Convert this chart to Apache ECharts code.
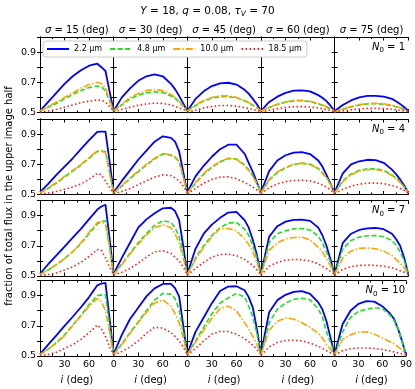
<!DOCTYPE html>
<html>
<head>
<meta charset="utf-8">
<script src="https://cdn.jsdelivr.net/npm/echarts@6/dist/echarts.min.js"></script>
<style>
  html, body { margin: 0; padding: 0; background: #fff; }
  #chart { width: 415px; height: 389px; }
</style>
</head>
<body>
<div id="chart"></div>
<script>
// inclination grid (deg), shared by every panel
const incl = [0, 10, 20, 30, 40, 50, 60, 70, 75, 80, 85, 90]
const sigmas = [15, 30, 45, 60, 75]
const n0s = [1, 4, 7, 10]
const waves = ['2.2 μm', '4.8 μm', '10.0 μm', '18.5 μm']

// flux fraction, [row = N0][col = sigma][incl]
const flux22 = [
  [
    [0.51, 0.57, 0.63, 0.69, 0.74, 0.78, 0.81, 0.823, 0.80, 0.775, 0.64, 0.51],
    [0.51, 0.60, 0.66, 0.71, 0.74, 0.752, 0.74, 0.69, 0.655, 0.61, 0.56, 0.51],
    [0.51, 0.59, 0.64, 0.675, 0.693, 0.697, 0.685, 0.65, 0.625, 0.59, 0.555, 0.51],
    [0.51, 0.57, 0.605, 0.63, 0.645, 0.647, 0.64, 0.615, 0.598, 0.575, 0.545, 0.51],
    [0.51, 0.55, 0.58, 0.60, 0.61, 0.61, 0.605, 0.59, 0.575, 0.557, 0.535, 0.51]
  ],
  [
    [0.515, 0.57, 0.63, 0.685, 0.74, 0.80, 0.86, 0.915, 0.916, 0.917, 0.72, 0.51],
    [0.515, 0.59, 0.66, 0.73, 0.79, 0.85, 0.885, 0.875, 0.85, 0.785, 0.65, 0.51],
    [0.515, 0.62, 0.69, 0.75, 0.80, 0.83, 0.83, 0.77, 0.71, 0.65, 0.58, 0.51],
    [0.515, 0.655, 0.725, 0.76, 0.777, 0.781, 0.768, 0.725, 0.685, 0.63, 0.57, 0.51],
    [0.515, 0.64, 0.70, 0.72, 0.73, 0.728, 0.71, 0.665, 0.635, 0.60, 0.56, 0.51]
  ],
  [
    [0.515, 0.578, 0.637, 0.695, 0.754, 0.812, 0.877, 0.94, 0.96, 0.972, 0.75, 0.51],
    [0.515, 0.62, 0.72, 0.82, 0.875, 0.915, 0.948, 0.952, 0.93, 0.87, 0.70, 0.51],
    [0.515, 0.68, 0.78, 0.84, 0.885, 0.92, 0.925, 0.87, 0.82, 0.74, 0.64, 0.51],
    [0.515, 0.76, 0.83, 0.86, 0.872, 0.873, 0.865, 0.82, 0.77, 0.70, 0.61, 0.51],
    [0.515, 0.72, 0.78, 0.805, 0.816, 0.818, 0.81, 0.78, 0.745, 0.70, 0.62, 0.51]
  ],
  [
    [0.513, 0.575, 0.637, 0.70, 0.76, 0.823, 0.89, 0.968, 0.98, 0.984, 0.75, 0.51],
    [0.515, 0.64, 0.745, 0.82, 0.895, 0.948, 0.977, 0.978, 0.95, 0.895, 0.70, 0.51],
    [0.515, 0.66, 0.755, 0.85, 0.93, 0.96, 0.962, 0.935, 0.89, 0.82, 0.68, 0.51],
    [0.515, 0.79, 0.87, 0.905, 0.925, 0.93, 0.912, 0.855, 0.81, 0.73, 0.62, 0.51],
    [0.515, 0.71, 0.80, 0.845, 0.864, 0.86, 0.83, 0.78, 0.745, 0.68, 0.60, 0.51]
  ]
]
const flux48 = [
  [
    [0.51, 0.535, 0.56, 0.59, 0.62, 0.645, 0.665, 0.675, 0.67, 0.645, 0.575, 0.51],
    [0.51, 0.55, 0.59, 0.615, 0.63, 0.637, 0.632, 0.61, 0.595, 0.57, 0.54, 0.51],
    [0.51, 0.545, 0.575, 0.595, 0.605, 0.605, 0.597, 0.577, 0.563, 0.547, 0.53, 0.51],
    [0.51, 0.533, 0.553, 0.568, 0.577, 0.578, 0.572, 0.557, 0.548, 0.537, 0.524, 0.51],
    [0.505, 0.522, 0.537, 0.549, 0.557, 0.558, 0.555, 0.545, 0.538, 0.53, 0.52, 0.508]
  ],
  [
    [0.51, 0.54, 0.575, 0.615, 0.655, 0.695, 0.74, 0.785, 0.787, 0.785, 0.65, 0.51],
    [0.51, 0.555, 0.605, 0.65, 0.695, 0.735, 0.768, 0.76, 0.745, 0.715, 0.62, 0.51],
    [0.51, 0.575, 0.635, 0.68, 0.715, 0.738, 0.735, 0.695, 0.665, 0.625, 0.575, 0.51],
    [0.51, 0.595, 0.645, 0.677, 0.698, 0.706, 0.70, 0.672, 0.645, 0.615, 0.57, 0.51],
    [0.51, 0.59, 0.635, 0.66, 0.67, 0.67, 0.66, 0.63, 0.61, 0.585, 0.55, 0.51]
  ],
  [
    [0.51, 0.54, 0.575, 0.615, 0.66, 0.715, 0.78, 0.845, 0.86, 0.865, 0.70, 0.51],
    [0.51, 0.58, 0.65, 0.72, 0.78, 0.835, 0.866, 0.855, 0.82, 0.76, 0.65, 0.51],
    [0.51, 0.62, 0.70, 0.77, 0.82, 0.85, 0.855, 0.81, 0.77, 0.70, 0.62, 0.51],
    [0.51, 0.72, 0.78, 0.80, 0.812, 0.814, 0.805, 0.765, 0.72, 0.66, 0.59, 0.51],
    [0.51, 0.68, 0.735, 0.758, 0.767, 0.768, 0.76, 0.735, 0.705, 0.66, 0.60, 0.51]
  ],
  [
    [0.51, 0.545, 0.59, 0.64, 0.705, 0.77, 0.84, 0.90, 0.905, 0.905, 0.70, 0.51],
    [0.51, 0.58, 0.655, 0.725, 0.80, 0.87, 0.915, 0.91, 0.88, 0.81, 0.66, 0.51],
    [0.51, 0.60, 0.69, 0.78, 0.85, 0.885, 0.915, 0.89, 0.83, 0.76, 0.65, 0.51],
    [0.51, 0.72, 0.81, 0.85, 0.875, 0.882, 0.872, 0.81, 0.76, 0.66, 0.59, 0.51],
    [0.51, 0.66, 0.755, 0.795, 0.81, 0.82, 0.815, 0.77, 0.735, 0.68, 0.60, 0.51]
  ]
]
const flux100 = [
  [
    [0.51, 0.54, 0.57, 0.60, 0.63, 0.66, 0.685, 0.70, 0.69, 0.665, 0.585, 0.51],
    [0.51, 0.555, 0.60, 0.625, 0.645, 0.652, 0.645, 0.62, 0.60, 0.575, 0.545, 0.51],
    [0.51, 0.55, 0.58, 0.60, 0.61, 0.61, 0.60, 0.58, 0.566, 0.55, 0.532, 0.51],
    [0.51, 0.535, 0.555, 0.57, 0.58, 0.58, 0.575, 0.56, 0.55, 0.54, 0.526, 0.51],
    [0.505, 0.525, 0.54, 0.552, 0.56, 0.561, 0.558, 0.548, 0.54, 0.532, 0.522, 0.508]
  ],
  [
    [0.51, 0.545, 0.58, 0.62, 0.66, 0.70, 0.745, 0.79, 0.79, 0.775, 0.64, 0.51],
    [0.51, 0.56, 0.61, 0.655, 0.70, 0.74, 0.772, 0.765, 0.75, 0.72, 0.62, 0.51],
    [0.51, 0.58, 0.64, 0.685, 0.72, 0.74, 0.735, 0.69, 0.66, 0.62, 0.57, 0.51],
    [0.51, 0.60, 0.65, 0.68, 0.70, 0.708, 0.70, 0.67, 0.64, 0.61, 0.565, 0.51],
    [0.51, 0.585, 0.63, 0.655, 0.665, 0.665, 0.655, 0.625, 0.605, 0.58, 0.55, 0.51]
  ],
  [
    [0.51, 0.54, 0.575, 0.615, 0.66, 0.72, 0.79, 0.855, 0.86, 0.84, 0.68, 0.51],
    [0.51, 0.575, 0.645, 0.71, 0.77, 0.82, 0.84, 0.82, 0.78, 0.72, 0.62, 0.51],
    [0.51, 0.61, 0.69, 0.76, 0.815, 0.815, 0.80, 0.745, 0.71, 0.66, 0.59, 0.51],
    [0.51, 0.67, 0.72, 0.745, 0.755, 0.757, 0.74, 0.69, 0.66, 0.615, 0.565, 0.51],
    [0.51, 0.62, 0.665, 0.683, 0.686, 0.68, 0.665, 0.635, 0.61, 0.585, 0.555, 0.51]
  ],
  [
    [0.51, 0.545, 0.585, 0.635, 0.70, 0.765, 0.83, 0.88, 0.86, 0.80, 0.66, 0.51],
    [0.51, 0.575, 0.65, 0.72, 0.79, 0.85, 0.872, 0.83, 0.78, 0.72, 0.62, 0.51],
    [0.51, 0.59, 0.67, 0.75, 0.815, 0.83, 0.80, 0.72, 0.68, 0.63, 0.58, 0.51],
    [0.51, 0.67, 0.73, 0.752, 0.745, 0.72, 0.69, 0.65, 0.62, 0.575, 0.545, 0.51],
    [0.51, 0.61, 0.64, 0.658, 0.66, 0.645, 0.62, 0.595, 0.58, 0.56, 0.54, 0.51]
  ]
]
const flux185 = [
  [
    [0.503, 0.51, 0.52, 0.535, 0.55, 0.565, 0.575, 0.583, 0.58, 0.57, 0.54, 0.51],
    [0.503, 0.52, 0.535, 0.548, 0.557, 0.562, 0.56, 0.55, 0.542, 0.53, 0.52, 0.507],
    [0.503, 0.515, 0.53, 0.54, 0.546, 0.547, 0.542, 0.532, 0.526, 0.52, 0.513, 0.505],
    [0.503, 0.515, 0.525, 0.533, 0.538, 0.539, 0.536, 0.53, 0.525, 0.52, 0.513, 0.505],
    [0.503, 0.51, 0.518, 0.523, 0.527, 0.528, 0.526, 0.522, 0.519, 0.515, 0.51, 0.505]
  ],
  [
    [0.503, 0.51, 0.52, 0.535, 0.55, 0.57, 0.60, 0.64, 0.63, 0.59, 0.545, 0.51],
    [0.505, 0.52, 0.54, 0.565, 0.59, 0.615, 0.63, 0.625, 0.61, 0.59, 0.555, 0.51],
    [0.505, 0.54, 0.575, 0.60, 0.615, 0.617, 0.605, 0.58, 0.565, 0.55, 0.53, 0.51],
    [0.505, 0.545, 0.57, 0.585, 0.593, 0.594, 0.59, 0.575, 0.563, 0.55, 0.53, 0.51],
    [0.505, 0.535, 0.555, 0.568, 0.575, 0.576, 0.572, 0.56, 0.552, 0.54, 0.527, 0.51]
  ],
  [
    [0.503, 0.51, 0.52, 0.54, 0.56, 0.59, 0.63, 0.675, 0.67, 0.62, 0.56, 0.51],
    [0.505, 0.525, 0.55, 0.585, 0.625, 0.66, 0.668, 0.65, 0.625, 0.60, 0.56, 0.51],
    [0.505, 0.55, 0.59, 0.625, 0.642, 0.645, 0.635, 0.61, 0.59, 0.57, 0.54, 0.51],
    [0.505, 0.565, 0.59, 0.605, 0.61, 0.608, 0.60, 0.58, 0.565, 0.55, 0.53, 0.51],
    [0.505, 0.545, 0.562, 0.57, 0.572, 0.57, 0.565, 0.555, 0.545, 0.535, 0.525, 0.51]
  ],
  [
    [0.503, 0.51, 0.525, 0.55, 0.575, 0.61, 0.655, 0.705, 0.68, 0.63, 0.56, 0.51],
    [0.505, 0.53, 0.56, 0.60, 0.65, 0.69, 0.685, 0.655, 0.63, 0.60, 0.56, 0.51],
    [0.505, 0.55, 0.60, 0.645, 0.663, 0.662, 0.645, 0.615, 0.595, 0.57, 0.545, 0.51],
    [0.505, 0.56, 0.59, 0.603, 0.605, 0.60, 0.585, 0.565, 0.55, 0.535, 0.522, 0.51],
    [0.505, 0.535, 0.548, 0.553, 0.553, 0.55, 0.543, 0.533, 0.527, 0.52, 0.514, 0.508]
  ]
]
const fluxes = [flux22, flux48, flux100, flux185]

const font = 'DejaVu Sans'
const lineStyles = [
  { color: '#0000ff', width: 1.8, type: 'solid' },
  { color: '#22dd22', width: 1.6, type: [5, 2.5] },
  { color: '#ffa500', width: 1.6, type: [7, 2, 1.5, 2] },
  { color: '#ff1a1a', width: 1.6, type: [1.5, 2.5] }
]

// panel layout
const left0 = 40
const colW = 73.66
const rowTop = [37, 119, 200.5, 280.5]
const rowH = 75.5

const grids = []
const xAxes = []
const yAxes = []
const series = []
const graphics = []

const axisLine = { show: true, lineStyle: { color: '#000', width: 1 } }

n0s.forEach((n0, r) => {
  sigmas.forEach((sig, c) => {
    const g = grids.length
    grids.push({ left: left0 + c * colW, top: rowTop[r], width: colW, height: rowH })
    const xBase = {
      type: 'value', gridIndex: g, min: 0, max: 90, interval: 30,
      axisLine: axisLine,
      axisTick: { show: true, inside: true, length: 3.5, lineStyle: { color: '#000' } },
      minorTick: { show: true, splitNumber: 2, length: 2, lineStyle: { color: '#000' } },
      splitLine: { show: false }
    }
    xAxes.push(Object.assign({}, xBase, {
      position: 'bottom',
      axisLabel: {
        show: r === 3, margin: 4, fontSize: 9.5, fontFamily: font, color: '#000',
        formatter: v => (v === 90 && c !== 4) ? '' : String(v)
      }
    }))
    xAxes.push(Object.assign({}, xBase, { position: 'top', axisLabel: { show: false } }))
    const yBase = {
      type: 'value', gridIndex: g, min: 0.5, max: 1.0, interval: 0.1,
      axisLine: axisLine,
      axisTick: { show: true, inside: true, length: 3, lineStyle: { color: '#000' } },
      splitLine: { show: false }
    }
    yAxes.push(Object.assign({}, yBase, {
      position: 'left',
      axisLabel: {
        show: c === 0, margin: 4, fontSize: 9.5, fontFamily: font, color: '#000',
        formatter: v => {
          const s = (Math.round(v * 10) / 10).toFixed(1)
          return (s === '0.5' || s === '0.7' || s === '0.9') ? s : ''
        }
      }
    }))
    yAxes.push(Object.assign({}, yBase, { position: 'right', axisLabel: { show: false } }))

    fluxes.forEach((f, w) => {
      series.push({
        name: waves[w],
        type: 'line',
        xAxisIndex: 2 * g,
        yAxisIndex: 2 * g,
        symbol: 'none',
        showSymbol: false,
        lineStyle: lineStyles[w],
        itemStyle: { color: lineStyles[w].color },
        data: incl.map((x, k) => [x, f[r][c][k]])
      })
    })

    // column titles
    if (r === 0) {
      graphics.push({
        type: 'text', x: left0 + (c + 0.5) * colW, y: 30,
        style: {
          text: '{i|σ} = ' + sig + ' (deg)', align: 'center', verticalAlign: 'middle',
          fontSize: 10, fontFamily: font, fill: '#000',
          rich: { i: { fontStyle: 'italic', fontSize: 10, fontFamily: font } }
        }
      })
    }
    // x axis names
    if (r === 3) {
      graphics.push({
        type: 'text', x: left0 + (c + 0.5) * colW, y: 380,
        style: {
          text: '{i|i} (deg)', align: 'center', verticalAlign: 'middle',
          fontSize: 10, fontFamily: font, fill: '#000',
          rich: { i: { fontStyle: 'italic', fontSize: 10, fontFamily: font } }
        }
      })
    }
  })
  // N0 label in the last column
  graphics.push({
    type: 'text', x: 405, y: rowTop[r] + 10, z: 10,
    style: {
      text: '{i|N}{s|0} = ' + n0, align: 'right', verticalAlign: 'middle',
      fontSize: 10, fontFamily: font, fill: '#000',
      rich: {
        i: { fontStyle: 'italic', fontSize: 10, fontFamily: font, lineHeight: 14 },
        s: { fontSize: 7, fontFamily: font, lineHeight: 8, verticalAlign: 'bottom' }
      }
    }
  })
})

// figure title
graphics.push({
  type: 'text', x: 207.5, y: 11,
  style: {
    text: '{i|Y} = 18, {i|q} = 0.08, {i|τ}{s|V} = 70', align: 'center', verticalAlign: 'middle',
    fontSize: 10.5, fontFamily: font, fill: '#000',
    rich: {
      i: { fontStyle: 'italic', fontSize: 10.5, fontFamily: font, lineHeight: 14 },
      s: { fontStyle: 'italic', fontSize: 7.5, fontFamily: font, lineHeight: 8, verticalAlign: 'bottom' }
    }
  }
})
// y axis name
graphics.push({
  type: 'text', x: 9, y: 196, rotation: Math.PI / 2,
  style: {
    text: 'fraction of total flux in the upper image half', align: 'center', verticalAlign: 'middle',
    fontSize: 10, fontFamily: font, fill: '#000'
  }
})

const chart = echarts.init(document.getElementById('chart'))
chart.setOption({
  animation: false,
  backgroundColor: '#fff',
  grid: grids,
  xAxis: xAxes,
  yAxis: yAxes,
  legend: {
    data: waves,
    left: 43, top: 41,
    itemWidth: 22, itemHeight: 8, itemGap: 7,
    padding: [4, 5, 4, 3],
    borderColor: '#cccccc', borderWidth: 1, borderRadius: 3,
    backgroundColor: '#ffffff',
    itemStyle: { opacity: 0 },
    textStyle: { fontSize: 8, fontFamily: font, color: '#000' }
  },
  series: series,
  graphic: graphics
})
</script>
</body>
</html>
